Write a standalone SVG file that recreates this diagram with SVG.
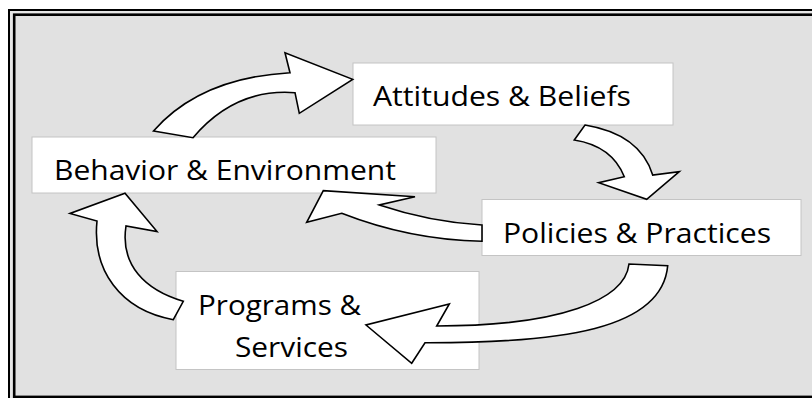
<svg xmlns="http://www.w3.org/2000/svg" width="812" height="398" viewBox="0 0 812 398">
<style>
.box{fill:#ffffff;stroke:#c4c4c4;stroke-width:1}
.lbl{font-family:"Open Sans",Lato,"Liberation Sans",sans-serif;font-size:26.5px;fill:#000000}
.arr{fill:#ffffff;stroke:#000000;stroke-width:1.6;stroke-linejoin:miter}
</style>
<rect x="0" y="0" width="812" height="398" fill="#ffffff"/>
<rect x="9" y="10" width="830" height="420" fill="#e6e6e6" stroke="#000000" stroke-width="2"/>
<rect x="14.2" y="14.7" width="820" height="382.2" fill="#e1e1e1" stroke="#000000" stroke-width="2.6"/>

<g id="node-attitudes">
<rect class="box" x="353" y="63" width="320" height="62"/>
<text class="lbl" x="373" y="106" textLength="258" lengthAdjust="spacingAndGlyphs">Attitudes &amp; Beliefs</text>
</g>
<g id="node-behavior">
<rect class="box" x="32" y="137" width="404" height="56"/>
<text class="lbl" x="54" y="180" textLength="342" lengthAdjust="spacingAndGlyphs">Behavior &amp; Environment</text>
</g>
<g id="node-policies">
<rect class="box" x="482" y="199.5" width="319" height="56"/>
<text class="lbl" x="503" y="243" textLength="268" lengthAdjust="spacingAndGlyphs">Policies &amp; Practices</text>
</g>
<g id="node-programs">
<rect class="box" x="176" y="271.5" width="303" height="98"/>
<text class="lbl" x="198" y="315" textLength="163" lengthAdjust="spacingAndGlyphs">Programs &amp;</text>
<text class="lbl" x="235" y="357" textLength="113" lengthAdjust="spacingAndGlyphs">Services</text>
</g>

<g id="connectors">
<!-- Behavior -> Attitudes -->
<path class="arr" d="M153.5,131 Q200,78 290,72.7 L285,52.7 L352.7,79.3 L299.3,113.3 L295,92.7 Q235,88 193,137.7 Z"/>
<!-- Attitudes -> Policies -->
<path class="arr" d="M585,125 Q640,134 652.7,175 L679.3,171.7 L646.7,199.3 L598.7,182.7 L624.3,176.7 Q612,146 574.3,140 Z"/>
<!-- Policies -> Behavior -->
<path class="arr" d="M482,225 Q430,222 379.3,205 L415,196.7 L323.3,190.7 L306.7,222.3 L341.7,213.3 Q410,240 482,241.3 Z"/>
<!-- Policies -> Programs -->
<path class="arr" d="M629,264 C625,300 560,326 436.7,326 L449.3,304 L366,325 L411.7,363.3 L425,342.7 C560,343 662,330 667.7,265.7 Z"/>
<!-- Programs -> Behavior -->
<path class="arr" d="M183.3,301.3 C145,290 120,265 126,226 L157,231.5 L125,193.3 L70,213.5 L97,221 C92,270 120,310 173.3,319.7 Z"/>
</g>
</svg>
